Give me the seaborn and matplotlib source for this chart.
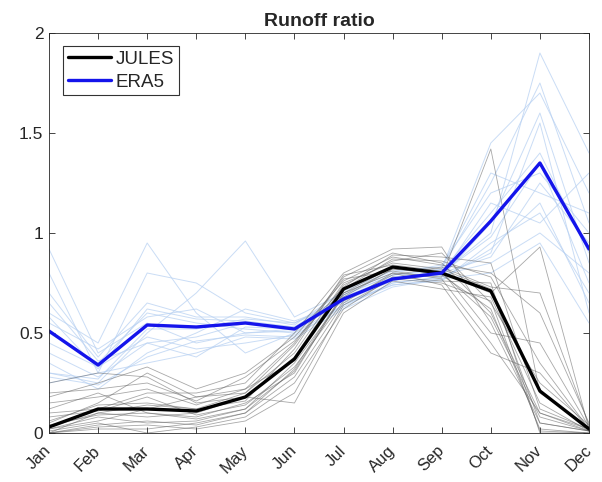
import numpy as np
import pandas as pd
import matplotlib
matplotlib.use("Agg")
import matplotlib.pyplot as plt
import seaborn as sns

months = ["Jan", "Feb", "Mar", "Apr", "May", "Jun", "Jul", "Aug", "Sep", "Oct", "Nov", "Dec"]

jules_mean = [0.03, 0.12, 0.12, 0.11, 0.18, 0.37, 0.72, 0.83, 0.80, 0.71, 0.21, 0.02]
era5_mean = [0.51, 0.34, 0.54, 0.53, 0.55, 0.52, 0.67, 0.77, 0.80, 1.06, 1.35, 0.92]

jules_years = [
    [0.00, 0.10, 0.14, 0.12, 0.20, 0.40, 0.75, 0.85, 0.82, 0.72, 0.05, 0.01],
    [0.05, 0.15, 0.30, 0.18, 0.22, 0.45, 0.78, 0.90, 0.85, 0.60, 0.10, 0.02],
    [0.12, 0.20, 0.10, 0.08, 0.15, 0.30, 0.70, 0.80, 0.78, 1.42, 0.20, 0.03],
    [0.02, 0.08, 0.05, 0.06, 0.12, 0.35, 0.68, 0.82, 0.80, 0.70, 0.93, 0.02],
    [0.25, 0.30, 0.28, 0.15, 0.18, 0.38, 0.74, 0.86, 0.90, 0.65, 0.25, 0.04],
    [0.01, 0.05, 0.00, 0.03, 0.08, 0.25, 0.62, 0.78, 0.76, 0.75, 0.00, 0.00],
    [0.10, 0.12, 0.20, 0.20, 0.25, 0.50, 0.80, 0.92, 0.93, 0.55, 0.05, 0.01],
    [0.00, 0.02, 0.02, 0.05, 0.10, 0.28, 0.65, 0.80, 0.74, 0.40, 0.30, 0.02],
    [0.18, 0.25, 0.33, 0.22, 0.30, 0.48, 0.76, 0.88, 0.84, 0.80, 0.60, 0.05],
    [0.03, 0.10, 0.08, 0.10, 0.18, 0.15, 0.60, 0.76, 0.72, 0.68, 0.15, 0.01],
    [0.06, 0.14, 0.15, 0.12, 0.16, 0.42, 0.79, 0.84, 0.81, 0.50, 0.45, 0.03],
    [0.00, 0.04, 0.06, 0.04, 0.10, 0.32, 0.70, 0.83, 0.79, 0.62, 0.02, 0.00],
    [0.15, 0.18, 0.22, 0.14, 0.22, 0.36, 0.72, 0.87, 0.86, 0.78, 0.35, 0.02],
    [0.02, 0.06, 0.12, 0.18, 0.20, 0.44, 0.77, 0.81, 0.77, 0.45, 0.10, 0.01],
    [0.08, 0.11, 0.18, 0.09, 0.14, 0.33, 0.66, 0.79, 0.83, 0.73, 0.70, 0.04],
    [0.00, 0.03, 0.04, 0.02, 0.06, 0.20, 0.64, 0.77, 0.75, 0.66, 0.01, 0.00],
    [0.20, 0.22, 0.25, 0.16, 0.28, 0.46, 0.73, 0.89, 0.88, 0.85, 0.12, 0.02],
    [0.04, 0.09, 0.10, 0.07, 0.12, 0.31, 0.69, 0.82, 0.80, 0.58, 0.08, 0.01],
]

era5_years = [
    [0.92, 0.40, 0.55, 0.45, 0.50, 0.52, 0.68, 0.78, 0.80, 1.00, 1.90, 1.40],
    [0.80, 0.30, 0.80, 0.75, 0.60, 0.55, 0.66, 0.76, 0.82, 1.45, 1.70, 1.20],
    [0.60, 0.45, 0.95, 0.60, 0.40, 0.50, 0.64, 0.75, 0.78, 0.90, 1.55, 0.60],
    [0.30, 0.25, 0.50, 0.70, 0.96, 0.58, 0.70, 0.80, 0.84, 1.20, 1.30, 1.00],
    [0.40, 0.28, 0.45, 0.48, 0.55, 0.53, 0.67, 0.77, 0.79, 0.85, 1.00, 0.80],
    [0.35, 0.22, 0.40, 0.50, 0.62, 0.56, 0.65, 0.74, 0.76, 0.95, 1.10, 0.70],
    [0.50, 0.35, 0.60, 0.55, 0.52, 0.50, 0.69, 0.79, 0.81, 1.10, 1.40, 0.90],
    [0.25, 0.30, 0.35, 0.40, 0.48, 0.47, 0.62, 0.73, 0.77, 0.80, 0.95, 0.55],
    [0.70, 0.38, 0.65, 0.58, 0.58, 0.54, 0.71, 0.81, 0.83, 1.30, 1.20, 1.10],
    [0.45, 0.33, 0.48, 0.42, 0.45, 0.49, 0.63, 0.75, 0.78, 1.05, 1.60, 0.85],
    [0.55, 0.42, 0.58, 0.62, 0.50, 0.51, 0.66, 0.78, 0.80, 0.88, 1.25, 0.95],
    [0.30, 0.27, 0.52, 0.52, 0.57, 0.55, 0.68, 0.77, 0.79, 1.15, 1.05, 1.30],
    [0.65, 0.36, 0.45, 0.38, 0.53, 0.52, 0.67, 0.76, 0.80, 0.98, 1.35, 0.75],
    [0.28, 0.24, 0.38, 0.46, 0.49, 0.48, 0.64, 0.74, 0.77, 0.92, 1.15, 0.65],
    [0.58, 0.32, 0.62, 0.57, 0.56, 0.53, 0.69, 0.79, 0.82, 1.25, 1.75, 1.05],
]

title = "Runoff ratio"
yticks = [0, 0.5, 1, 1.5, 2]
ytick_labels = ["0", "0.5", "1", "1.5", "2"]


def long_form(rows):
    recs = []
    for u, row in enumerate(rows):
        for m, v in enumerate(row):
            recs.append({"unit": u, "month": m, "value": v})
    return pd.DataFrame(recs)


sns.set_style("white")
plt.rcParams["font.family"] = ["Liberation Sans", "DejaVu Sans"]

fig = plt.figure(figsize=(6.02, 4.82), dpi=100)
ax = fig.add_axes([49 / 602, 49 / 482, 540 / 602, 400 / 482])

x = np.arange(len(months))

sns.lineplot(data=long_form(era5_years), x="month", y="value", units="unit",
             estimator=None, color=(0.72, 0.82, 0.95), linewidth=0.7, alpha=0.75,
             legend=False, ax=ax)
sns.lineplot(data=long_form(jules_years), x="month", y="value", units="unit",
             estimator=None, color=(0.38, 0.38, 0.38), linewidth=0.6, alpha=0.55,
             legend=False, ax=ax)

sns.lineplot(x=x, y=jules_mean, color="black", linewidth=2.4, label="JULES", ax=ax)
sns.lineplot(x=x, y=era5_mean, color=(0.08, 0.08, 0.92), linewidth=2.4, label="ERA5", ax=ax)

ax.set_xlim(0, 11)
ax.set_ylim(0, 2)
ax.set_xticks(x)
ax.set_xticklabels(months, rotation=45, ha="right", va="center",
                   rotation_mode="anchor", fontsize=12)
ax.set_yticks(yticks)
ax.set_yticklabels(ytick_labels, fontsize=12.5)
ax.set_xlabel("")
ax.set_ylabel("")
ax.set_title(title, fontsize=14, fontweight="bold", pad=5)

for s in ax.spines.values():
    s.set_color((0.15, 0.15, 0.15))
    s.set_linewidth(0.6)
ax.tick_params(direction="in", length=4, width=0.6, color=(0.15, 0.15, 0.15),
               top=True, right=True, bottom=True, left=True, labelcolor=(0.15, 0.15, 0.15))
ax.tick_params(axis="x", pad=11)
ax.tick_params(axis="y", pad=4)

leg = ax.legend(loc="upper left", fontsize=13.5, frameon=True, fancybox=False,
                edgecolor="black", borderpad=0.25, handlelength=2.3, handletextpad=0.25,
                labelspacing=0.3, borderaxespad=0, bbox_to_anchor=(0.026, 0.9675))
leg.get_frame().set_linewidth(0.8)

fig.savefig("out.png", dpi=100, facecolor="white")
